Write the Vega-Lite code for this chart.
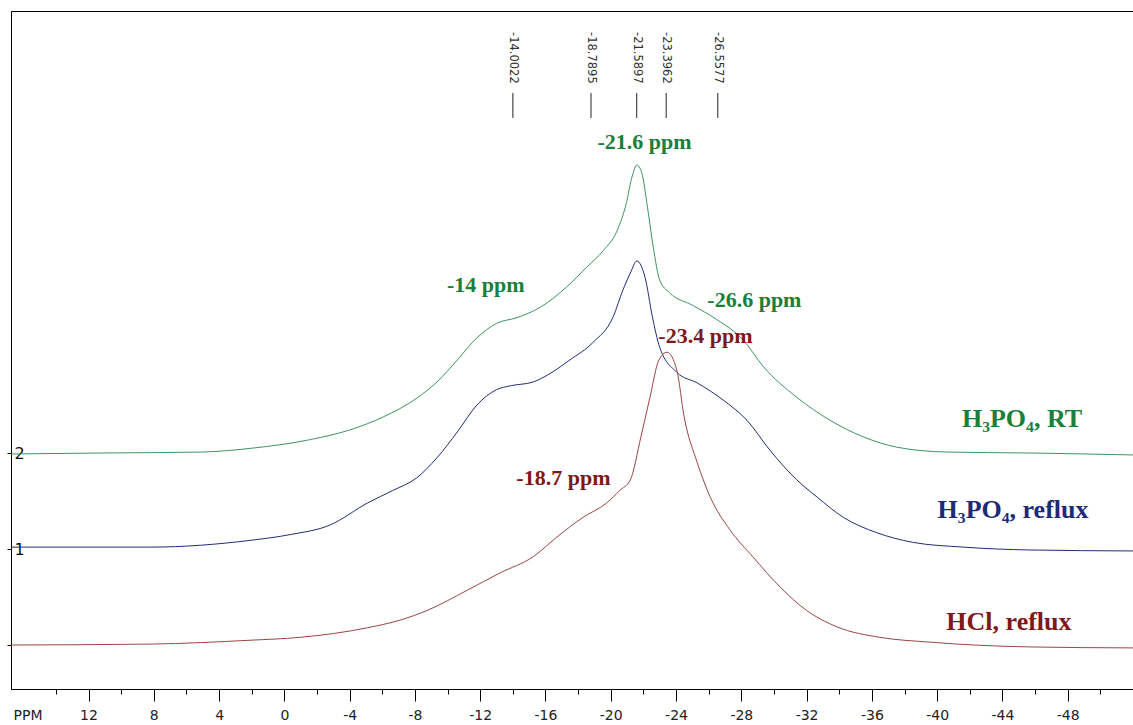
{
  "$schema": "https://vega.github.io/schema/vega-lite/v6.json",
  "width": 1122,
  "height": 678,
  "autosize": {"type": "none"},
  "padding": {"left": 11, "top": 11, "right": 0, "bottom": 36},
  "background": "white",
  "config": {"view": {"stroke": "#000", "strokeWidth": 1}},
  "encoding": {
    "x": {
      "field": "ppm", "type": "quantitative",
      "scale": {"domain": [-52.0, 16.75], "reverse": true, "nice": false, "zero": false},
      "axis": {
        "values": [14, 12, 10, 8, 6, 4, 2, 0, -2, -4, -6, -8, -10, -12, -14, -16, -18, -20, -22, -24, -26, -28, -30, -32, -34, -36, -38, -40, -42, -44, -46, -48, -50],
        "labelExpr": "datum.value % 4 === 0 ? '' + datum.value : ''",
        "labelOverlap": false, "labelFlush": false,
        "labelFont": "DejaVu Sans", "labelFontSize": 14, "labelColor": "#222",
        "labelPadding": 7,
        "tickColor": "#000", "tickWidth": 1,
        "tickSize": {"condition": {"test": "datum.value % 4 === 0", "value": 12}, "value": 5},
        "domainColor": "#000", "grid": false,
        "title": "PPM", "titleFont": "DejaVu Sans", "titleFontSize": 14, "titleFontWeight": "normal", "titleColor": "#222",
        "titleX": 2, "titleY": 19, "titleAlign": "left", "titleBaseline": "top", "titleAnchor": "start"
      }
    },
    "y": {
      "field": "v", "type": "quantitative",
      "scale": {"domain": [-0.458, 6.604], "nice": false, "zero": false},
      "axis": {
        "values": [0, 1, 2],
        "labelExpr": "datum.value === 0 ? '' : datum.label",
        "labelFont": "DejaVu Sans", "labelFontSize": 16, "labelColor": "#111",
        "labelAlign": "left", "labelPadding": -7,
        "tickSize": 4, "tickColor": "#000",
        "domainColor": "#000", "grid": false, "title": null
      }
    }
  },
  "layer": [
    {
      "data": {"values": [
        {"s":"RT","ppm":16.75,"v":1.99},{"s":"RT","ppm":11.2,"v":2.0},{"s":"RT","ppm":5.1,"v":2.01},{"s":"RT","ppm":2.0,"v":2.05},
        {"s":"RT","ppm":-1.6,"v":2.14},{"s":"RT","ppm":-4.0,"v":2.24},{"s":"RT","ppm":-6.05,"v":2.375},{"s":"RT","ppm":-8.1,"v":2.57},
        {"s":"RT","ppm":-9.35,"v":2.74},{"s":"RT","ppm":-10.6,"v":2.97},{"s":"RT","ppm":-11.8,"v":3.2},{"s":"RT","ppm":-13.0,"v":3.35},
        {"s":"RT","ppm":-14.25,"v":3.41},{"s":"RT","ppm":-15.7,"v":3.52},{"s":"RT","ppm":-17.3,"v":3.73},{"s":"RT","ppm":-18.55,"v":3.94},
        {"s":"RT","ppm":-19.55,"v":4.11},{"s":"RT","ppm":-20.4,"v":4.32},{"s":"RT","ppm":-20.95,"v":4.6},{"s":"RT","ppm":-21.3,"v":4.875},
        {"s":"RT","ppm":-21.6,"v":5.0},{"s":"RT","ppm":-21.9,"v":4.92},{"s":"RT","ppm":-22.25,"v":4.56},{"s":"RT","ppm":-22.6,"v":4.15},
        {"s":"RT","ppm":-23.0,"v":3.8},{"s":"RT","ppm":-23.6,"v":3.67},{"s":"RT","ppm":-25.0,"v":3.54},{"s":"RT","ppm":-26.5,"v":3.39},
        {"s":"RT","ppm":-28.1,"v":3.18},{"s":"RT","ppm":-29.35,"v":2.9},{"s":"RT","ppm":-31.4,"v":2.58},{"s":"RT","ppm":-33.45,"v":2.34},
        {"s":"RT","ppm":-35.45,"v":2.17},{"s":"RT","ppm":-37.55,"v":2.06},{"s":"RT","ppm":-40.6,"v":2.01},{"s":"RT","ppm":-45.7,"v":2.0},
        {"s":"RT","ppm":-52.0,"v":1.98},
        {"s":"reflux","ppm":16.75,"v":1.02},{"s":"reflux","ppm":8.2,"v":1.02},{"s":"reflux","ppm":2.1,"v":1.09},{"s":"reflux","ppm":-0.35,"v":1.15},
        {"s":"reflux","ppm":-2.8,"v":1.25},{"s":"reflux","ppm":-5.1,"v":1.48},{"s":"reflux","ppm":-6.65,"v":1.61},{"s":"reflux","ppm":-8.1,"v":1.74},
        {"s":"reflux","ppm":-9.35,"v":1.95},{"s":"reflux","ppm":-10.6,"v":2.22},{"s":"reflux","ppm":-11.8,"v":2.5},{"s":"reflux","ppm":-13.0,"v":2.66},
        {"s":"reflux","ppm":-13.85,"v":2.7},{"s":"reflux","ppm":-15.25,"v":2.74},{"s":"reflux","ppm":-16.3,"v":2.83},{"s":"reflux","ppm":-17.5,"v":2.97},
        {"s":"reflux","ppm":-18.9,"v":3.15},{"s":"reflux","ppm":-20.15,"v":3.42},{"s":"reflux","ppm":-20.75,"v":3.7},{"s":"reflux","ppm":-21.2,"v":3.875},
        {"s":"reflux","ppm":-21.6,"v":4.0},{"s":"reflux","ppm":-22.1,"v":3.83},{"s":"reflux","ppm":-22.55,"v":3.42},{"s":"reflux","ppm":-23.0,"v":3.1},
        {"s":"reflux","ppm":-24.05,"v":2.84},{"s":"reflux","ppm":-25.3,"v":2.73},{"s":"reflux","ppm":-26.9,"v":2.55},{"s":"reflux","ppm":-28.35,"v":2.34},
        {"s":"reflux","ppm":-29.75,"v":2.03},{"s":"reflux","ppm":-31.4,"v":1.72},{"s":"reflux","ppm":-32.65,"v":1.54},{"s":"reflux","ppm":-34.25,"v":1.33},
        {"s":"reflux","ppm":-36.3,"v":1.17},{"s":"reflux","ppm":-38.5,"v":1.07},{"s":"reflux","ppm":-41.6,"v":1.02},{"s":"reflux","ppm":-45.7,"v":0.99},
        {"s":"reflux","ppm":-52.0,"v":0.98},
        {"s":"HCl","ppm":16.75,"v":0.0},{"s":"HCl","ppm":8.2,"v":0.01},{"s":"HCl","ppm":2.1,"v":0.05},{"s":"HCl","ppm":-0.95,"v":0.08},
        {"s":"HCl","ppm":-5.1,"v":0.18},{"s":"HCl","ppm":-7.1,"v":0.26},{"s":"HCl","ppm":-8.75,"v":0.36},{"s":"HCl","ppm":-11.2,"v":0.57},
        {"s":"HCl","ppm":-13.2,"v":0.75},{"s":"HCl","ppm":-15.25,"v":0.92},{"s":"HCl","ppm":-16.7,"v":1.125},{"s":"HCl","ppm":-18.3,"v":1.33},
        {"s":"HCl","ppm":-19.75,"v":1.48},{"s":"HCl","ppm":-20.55,"v":1.61},{"s":"HCl","ppm":-21.2,"v":1.72},{"s":"HCl","ppm":-21.85,"v":2.17},
        {"s":"HCl","ppm":-22.4,"v":2.58},{"s":"HCl","ppm":-22.95,"v":2.97},{"s":"HCl","ppm":-23.45,"v":3.05},{"s":"HCl","ppm":-24.05,"v":2.86},
        {"s":"HCl","ppm":-24.5,"v":2.375},{"s":"HCl","ppm":-25.3,"v":1.9},{"s":"HCl","ppm":-26.1,"v":1.54},{"s":"HCl","ppm":-27.3,"v":1.2},
        {"s":"HCl","ppm":-28.7,"v":0.92},{"s":"HCl","ppm":-30.4,"v":0.6},{"s":"HCl","ppm":-32.0,"v":0.36},{"s":"HCl","ppm":-33.85,"v":0.19},
        {"s":"HCl","ppm":-36.5,"v":0.08},{"s":"HCl","ppm":-39.55,"v":0.03},{"s":"HCl","ppm":-45.7,"v":-0.02},{"s":"HCl","ppm":-52.0,"v":-0.03}
      ]},
      "mark": {"type": "line", "strokeWidth": 1, "interpolate": "monotone", "clip": true},
      "encoding": {
        "color": {"field": "s", "type": "nominal", "legend": null,
          "scale": {"domain": ["RT", "reflux", "HCl"], "range": ["#3d9466", "#262a78", "#9e4444"]}}
      }
    },
    {
      "data": {"values": [
        {"ppm": -14.0022, "v": 5.75, "v2": 5.49},
        {"ppm": -18.7895, "v": 5.75, "v2": 5.49},
        {"ppm": -21.5897, "v": 5.75, "v2": 5.49},
        {"ppm": -23.3962, "v": 5.75, "v2": 5.49},
        {"ppm": -26.5577, "v": 5.75, "v2": 5.49}
      ]},
      "mark": {"type": "rule", "color": "#222", "strokeWidth": 1},
      "encoding": {"y2": {"field": "v2"}}
    },
    {
      "data": {"values": [
        {"ppm": -14.0022, "v": 6.385, "label": "-14.0022"},
        {"ppm": -18.7895, "v": 6.385, "label": "-18.7895"},
        {"ppm": -21.5897, "v": 6.385, "label": "-21.5897"},
        {"ppm": -23.3962, "v": 6.385, "label": "-23.3962"},
        {"ppm": -26.5577, "v": 6.385, "label": "-26.5577"}
      ]},
      "mark": {"type": "text", "angle": 90, "align": "left", "baseline": "middle", "font": "DejaVu Sans", "fontSize": 11.5, "color": "#333"},
      "encoding": {"text": {"field": "label"}}
    },
    {
      "data": {"values": [
        {"ppm": -22.07, "v": 5.17, "label": "-21.6 ppm"},
        {"ppm": -12.34, "v": 3.68, "label": "-14 ppm"},
        {"ppm": -28.8, "v": 3.52, "label": "-26.6 ppm"}
      ]},
      "mark": {"type": "text", "align": "center", "baseline": "alphabetic", "font": "Liberation Serif", "fontWeight": "bold", "fontSize": 22, "color": "#17803b"},
      "encoding": {"text": {"field": "label"}}
    },
    {
      "data": {"values": [
        {"ppm": -25.8, "v": 3.15, "label": "-23.4 ppm"},
        {"ppm": -17.1, "v": 1.67, "label": "-18.7 ppm"}
      ]},
      "mark": {"type": "text", "align": "center", "baseline": "alphabetic", "font": "Liberation Serif", "fontWeight": "bold", "fontSize": 22, "color": "#801818"},
      "encoding": {"text": {"field": "label"}}
    },
    {
      "data": {"values": [{"ppm": -45.2, "v": 2.27, "label": "H₃PO₄, RT"}]},
      "mark": {"type": "text", "align": "center", "baseline": "alphabetic", "font": "Liberation Serif", "fontWeight": "bold", "fontSize": 26, "color": "#17803b"},
      "encoding": {"text": {"field": "label"}}
    },
    {
      "data": {"values": [{"ppm": -44.65, "v": 1.32, "label": "H₃PO₄, reflux"}]},
      "mark": {"type": "text", "align": "center", "baseline": "alphabetic", "font": "Liberation Serif", "fontWeight": "bold", "fontSize": 26, "color": "#1c2a78"},
      "encoding": {"text": {"field": "label"}}
    },
    {
      "data": {"values": [{"ppm": -44.4, "v": 0.16, "label": "HCl, reflux"}]},
      "mark": {"type": "text", "align": "center", "baseline": "alphabetic", "font": "Liberation Serif", "fontWeight": "bold", "fontSize": 26, "color": "#801818"},
      "encoding": {"text": {"field": "label"}}
    }
  ]
}
